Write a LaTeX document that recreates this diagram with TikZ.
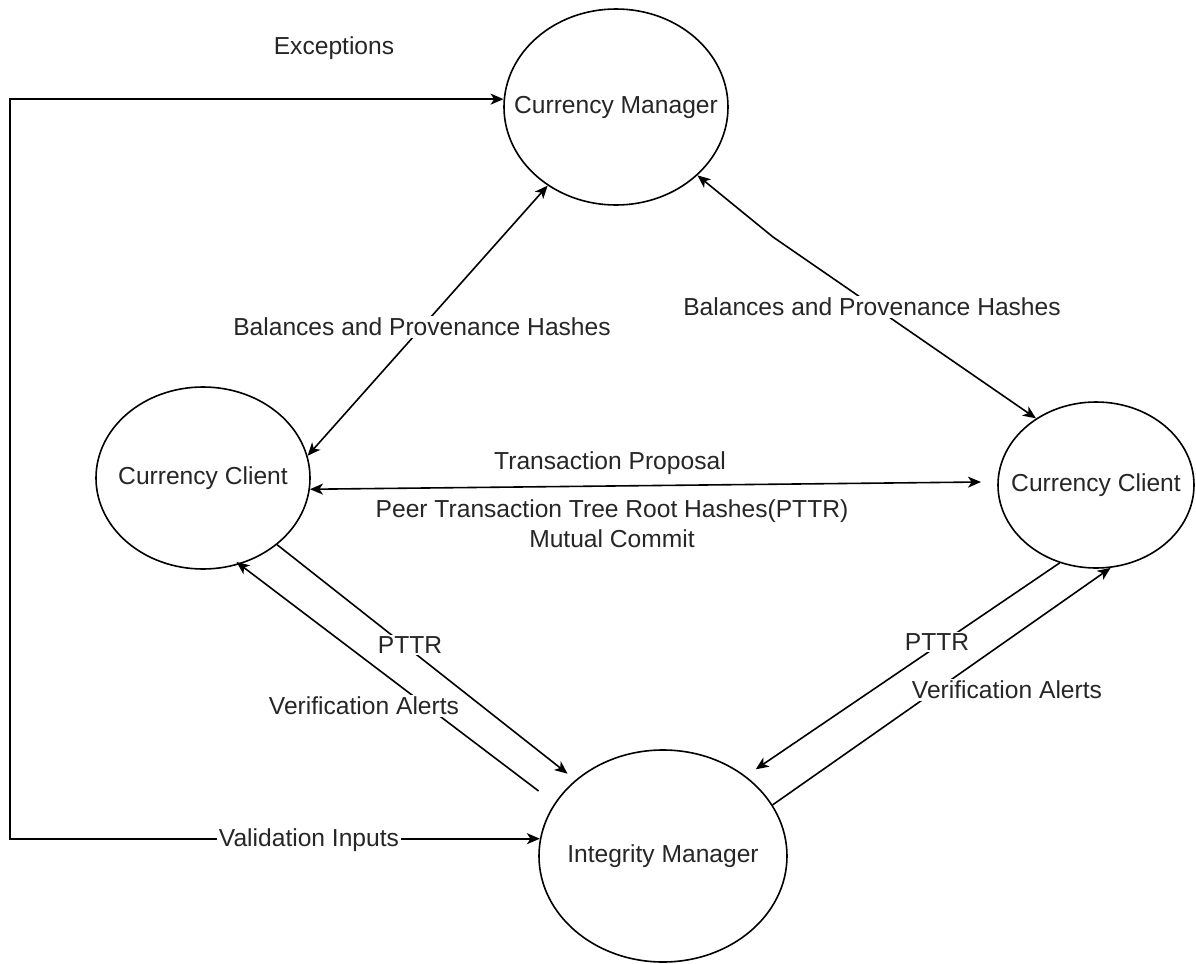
\documentclass[tikz,border=0pt]{standalone}
\usepackage{fontspec}
\setmainfont{Liberation Sans}
\usetikzlibrary{shapes.geometric,arrows.meta}
\begin{document}
\begin{tikzpicture}[x=0.5pt,y=-0.5pt,
  every node/.style={font=\fontsize{12.3}{15}\selectfont, text=black!85},
  proc/.style={ellipse, draw=black, line width=0.8pt, inner sep=0pt},
  conn/.style={line width=0.8pt, draw=black, -{Stealth[length=6.5pt,width=5.5pt,inset=1.8pt]}},
  biconn/.style={line width=0.8pt, draw=black, {Stealth[length=6.5pt,width=5.5pt,inset=1.8pt]}-{Stealth[length=6.5pt,width=5.5pt,inset=1.8pt]}},
  lbl/.style={fill=white, inner sep=1pt},
  plainlbl/.style={inner sep=1pt, align=center}]
\useasboundingbox (0,0) rectangle (1196,964);
\fill[white] (0,0) rectangle (1196,964);

% processes
\node[proc, minimum width=112pt, minimum height=98pt, label={center:Currency Manager}] (CM) at (616,107) {};
\node[proc, minimum width=107pt, minimum height=91pt, label={center:Currency Client}] (CC1) at (203,478) {};
\node[proc, minimum width=98pt, minimum height=83pt, label={center:Currency Client}] (CC2) at (1096,485) {};
\node[proc, minimum width=124pt, minimum height=106pt, label={center:Integrity Manager}] (IM) at (663,856) {};

\coordinate (lft) at (10,0);
\coordinate (tpend) at (981,482);
\coordinate (bend) at (773,237);

% exceptions / validation inputs loop
\draw[biconn] (CM.176.4) -- (CM.176.4 -| lft) |- (IM.172.1);

% balances and provenance hashes
\draw[biconn] (CC1.12.1) -- (CM.229.6);
\draw[biconn] (CM.320.8) -- (bend) -- (CC2.132);

% transaction proposal
\draw[biconn] (CC1.354.8) -- (tpend);

% PTTR and verification alerts, left
\draw[conn, shorten >=5pt] (CC1.318.7) -- (IM.139.2);
\draw[conn, shorten <=10pt, shorten >=-2pt] (IM.154.5) -- (CC1.293.2);

% PTTR and verification alerts, right
\draw[conn, shorten >=6pt] (CC2.245.2) -- (IM.44.4);
\draw[conn] (IM.25.9) -- (CC2.280);

% labels
\node[plainlbl] (lexc) at (334,48) {Exceptions};
\node[lbl] (lval) at (309,840) {Validation Inputs};
\node[lbl] (lbal1) at (422,327) {Balances and Provenance Hashes};
\node[lbl] (lbal2) at (872,307) {Balances and Provenance Hashes};
\node[plainlbl] (ltp) at (610,463) {Transaction Proposal};
\node[plainlbl] (lpeer) at (612,524) {Peer Transaction Tree Root Hashes(PTTR)\\Mutual Commit};
\node[lbl] (lpttr1) at (410,645) {PTTR};
\node[lbl] (lva1) at (364,706) {Verification Alerts};
\node[lbl] (lpttr2) at (937,642) {PTTR};
\node[lbl] (lva2) at (1007,690) {Verification Alerts};
\end{tikzpicture}
\end{document}
